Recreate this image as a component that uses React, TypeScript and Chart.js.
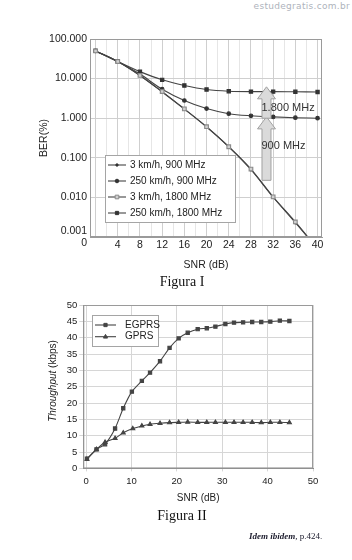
import React, { useEffect, useRef } from "react";
import { Chart, registerables } from "chart.js";

Chart.register(...registerables);

// ---------- Figura I : BER x SNR ----------
const berSnr = [0, 4, 8, 12, 16, 20, 24, 28, 32, 36, 40];
const ber3km900 = [50, 27, 12, 4.6, 1.7, 0.6, 0.19, 0.05, 0.0101, 0.0023, 0.0005];
const ber250km900 = [50, 27, 13, 5.4, 2.8, 1.75, 1.3, 1.15, 1.08, 1.03, 1.0];
const ber3km1800 = [50, 27, 12, 4.7, 1.72, 0.61, 0.19, 0.052, 0.0103, 0.0024, 0.0005];
const ber250km1800 = [50, 27, 15, 9.3, 6.7, 5.3, 4.8, 4.7, 4.7, 4.65, 4.6];
const berLabels = ["3 km/h, 900 MHz", "250 km/h, 900 MHz", "3 km/h, 1800 MHz", "250 km/h, 1800 MHz"];
const berTickVals = [100, 10, 1, 0.1, 0.01, 0.001];
const berTickLabels: (string | string[])[] = ["100.000", "10.000", "1.000", "0.100", "0.010", ["0.001", "0"]];
const snrTickLabels1 = [4, 8, 12, 16, 20, 24, 28, 32, 36, 40];
const arrowSnr = 30.8;
const arrow900 = [0.027, 1.08];
const arrow1800 = [1.0, 6.2];
const arrowText = ["1.800 MHz", "900 MHz"];

// ---------- Figura II : Throughput x SNR ----------
const egprsSnr = [0.2, 2.3, 4.2, 6.4, 8.2, 10.1, 12.3, 14.1, 16.3, 18.4, 20.4, 22.4, 24.6, 26.6, 28.5, 30.7, 32.6, 34.6, 36.6, 38.6, 40.6, 42.7, 44.8];
const egprsKbps = [3.0, 5.8, 7.4, 12.2, 18.4, 23.5, 26.8, 29.3, 32.8, 36.9, 39.8, 41.5, 42.6, 42.9, 43.4, 44.2, 44.6, 44.7, 44.8, 44.8, 44.9, 45.2, 45.1];
const gprsSnr = [0.2, 2.3, 4.2, 6.4, 8.2, 10.3, 12.3, 14.1, 16.3, 18.4, 20.4, 22.4, 24.6, 26.6, 28.5, 30.7, 32.6, 34.6, 36.6, 38.6, 40.6, 42.7, 44.8];
const gprsKbps = [2.8, 5.8, 8.0, 9.2, 10.9, 12.2, 13.0, 13.5, 13.8, 14.0, 14.1, 14.2, 14.1, 14.1, 14.1, 14.1, 14.1, 14.1, 14.1, 14.0, 14.1, 14.1, 14.0];
const tpLabels = ["EGPRS", "GPRS"];
const tpXTicks = [0, 10, 20, 30, 40, 50];

const FONT = "'Liberation Sans', Arial, sans-serif";
const TXT = "#222";
const LINE = "#444";

function drawMarker(ctx: CanvasRenderingContext2D, style: string, x: number, y: number, r: number, fill: string, stroke: string) {
  ctx.save();
  ctx.fillStyle = fill;
  ctx.strokeStyle = stroke;
  ctx.lineWidth = 1;
  ctx.beginPath();
  if (style === "rect") {
    const s = r * Math.SQRT1_2;
    ctx.rect(x - s, y - s, 2 * s, 2 * s);
  } else if (style === "triangle") {
    ctx.moveTo(x, y - r);
    ctx.lineTo(x + r * 0.9, y + r * 0.6);
    ctx.lineTo(x - r * 0.9, y + r * 0.6);
    ctx.closePath();
  } else {
    ctx.arc(x, y, r, 0, Math.PI * 2);
  }
  ctx.fill();
  ctx.stroke();
  ctx.restore();
}

const borderPlugin = {
  id: "frame",
  afterDraw(chart: any) {
    const { ctx, chartArea: a } = chart;
    ctx.save();
    ctx.strokeStyle = "#9a9a9a";
    ctx.lineWidth = 1;
    ctx.strokeRect(a.left + 0.5, a.top + 0.5, a.right - a.left - 1, a.bottom - a.top - 1);
    ctx.restore();
  },
};

function makeLegend(id: string, box: number[], rows: number[], lineX: number[], textX: number, fontSize: number) {
  return {
    id,
    afterDraw(chart: any) {
      const { ctx } = chart;
      ctx.save();
      ctx.fillStyle = "#fff";
      ctx.strokeStyle = "#a5a5a5";
      ctx.lineWidth = 1;
      ctx.fillRect(box[0], box[1], box[2] - box[0], box[3] - box[1]);
      ctx.strokeRect(box[0] + 0.5, box[1] + 0.5, box[2] - box[0], box[3] - box[1]);
      chart.data.datasets.forEach((ds: any, i: number) => {
        const y = rows[i];
        ctx.strokeStyle = ds.borderColor;
        ctx.lineWidth = ds.borderWidth;
        ctx.beginPath();
        ctx.moveTo(lineX[0], y);
        ctx.lineTo(lineX[1], y);
        ctx.stroke();
        drawMarker(ctx, ds.pointStyle, (lineX[0] + lineX[1]) / 2, y, ds.pointRadius, ds.pointBackgroundColor, ds.pointBorderColor);
        ctx.fillStyle = TXT;
        ctx.font = `${fontSize}px ${FONT}`;
        ctx.textBaseline = "middle";
        ctx.textAlign = "left";
        ctx.fillText(ds.label, textX, y);
      });
      ctx.restore();
    },
  };
}

function drawArrow(ctx: CanvasRenderingContext2D, x: number, yFrom: number, yTo: number) {
  const sw = 4.5, hw = 9, hl = 12;
  ctx.beginPath();
  ctx.moveTo(x - sw, yFrom);
  ctx.lineTo(x - sw, yTo + hl);
  ctx.lineTo(x - hw, yTo + hl);
  ctx.lineTo(x, yTo);
  ctx.lineTo(x + hw, yTo + hl);
  ctx.lineTo(x + sw, yTo + hl);
  ctx.lineTo(x + sw, yFrom);
  ctx.closePath();
  ctx.fillStyle = "#dadada";
  ctx.strokeStyle = "#a0a0a0";
  ctx.lineWidth = 1;
  ctx.fill();
  ctx.stroke();
}

const arrowPlugin = {
  id: "arrows",
  afterDatasetsDraw(chart: any) {
    const { ctx, scales } = chart;
    const x = scales.x.getPixelForValue(arrowSnr);
    ctx.save();
    drawArrow(ctx, x, scales.y.getPixelForValue(arrow900[0]), scales.y.getPixelForValue(arrow900[1]));
    drawArrow(ctx, x, scales.y.getPixelForValue(arrow1800[0]), scales.y.getPixelForValue(arrow1800[1]));
    ctx.fillStyle = "#333";
    ctx.font = `11px ${FONT}`;
    ctx.textBaseline = "middle";
    ctx.textAlign = "left";
    ctx.fillText(arrowText[0], x - 5, scales.y.getPixelForValue(1.85));
    ctx.fillText(arrowText[1], x - 5, scales.y.getPixelForValue(0.2));
    ctx.restore();
  },
};

const yTitlePlugin = {
  id: "ytitle",
  afterDraw(chart: any) {
    const { ctx } = chart;
    ctx.save();
    ctx.translate(53, 91);
    ctx.rotate(-Math.PI / 2);
    ctx.fillStyle = TXT;
    ctx.textBaseline = "middle";
    const a = "Throughput", b = " (kbps)";
    ctx.font = `italic 10px ${FONT}`;
    const wa = ctx.measureText(a).width;
    ctx.font = `10px ${FONT}`;
    const wb = ctx.measureText(b).width;
    const start = -(wa + wb) / 2;
    ctx.font = `italic 10px ${FONT}`;
    ctx.textAlign = "left";
    ctx.fillText(a, start, 0);
    ctx.font = `10px ${FONT}`;
    ctx.fillText(b, start + wa, 0);
    ctx.restore();
  },
};

function series(xs: number[], ys: number[]) {
  return xs.map((x, i) => ({ x, y: ys[i] }));
}

export default function App() {
  const ref1 = useRef<HTMLCanvasElement>(null);
  const ref2 = useRef<HTMLCanvasElement>(null);

  useEffect(() => {
    Chart.defaults.font.family = FONT;
    Chart.defaults.color = TXT;

    const c1 = new Chart(ref1.current as HTMLCanvasElement, {
      type: "line",
      data: {
        datasets: [
          { label: berLabels[0], data: series(berSnr, ber3km900), borderColor: LINE, borderWidth: 1.1, pointStyle: "circle", pointRadius: 1.2, pointBackgroundColor: "#333", pointBorderColor: "#333", cubicInterpolationMode: "monotone", order: 2 },
          { label: berLabels[1], data: series(berSnr, ber250km900), borderColor: LINE, borderWidth: 1.1, pointStyle: "circle", pointRadius: 1.8, pointBackgroundColor: "#333", pointBorderColor: "#333", cubicInterpolationMode: "monotone", order: 3 },
          { label: berLabels[2], data: series(berSnr, ber3km1800), borderColor: LINE, borderWidth: 1.1, pointStyle: "rect", pointRadius: 2.6, pointBackgroundColor: "#d0d0d0", pointBorderColor: "#8a8a8a", cubicInterpolationMode: "monotone", order: 1 },
          { label: berLabels[3], data: series(berSnr, ber250km1800), borderColor: LINE, borderWidth: 1.1, pointStyle: "rect", pointRadius: 2.3, pointBackgroundColor: "#333", pointBorderColor: "#333", cubicInterpolationMode: "monotone", order: 4 },
        ] as any,
      },
      options: {
        responsive: false,
        animation: false,
        events: [],
        layout: { padding: { top: 39, right: 30, left: 34, bottom: 0 } },
        plugins: { legend: { display: false }, tooltip: { enabled: false } },
        scales: {
          x: {
            type: "linear",
            min: -1,
            max: 40.8,
            afterBuildTicks: (s: any) => {
              const t = [];
              for (let v = 0; v <= 40; v += 2) t.push({ value: v });
              s.ticks = t;
            },
            afterFit: (s: any) => { s.height = 38; },
            ticks: {
              autoSkip: false,
              maxRotation: 0,
              padding: 2,
              font: { size: 10.5 },
              color: TXT,
              callback: (v: any) => (snrTickLabels1.includes(Number(v)) ? String(v) : ""),
            },
            grid: {
              drawTicks: false,
              color: (c: any) => (c.tick && c.tick.value % 4 === 0 ? "#cfcfcf" : "#e6e6e6"),
            },
            border: { display: true, color: "#9a9a9a" },
            title: { display: true, text: "SNR (dB)", font: { size: 10.5 }, color: TXT, padding: { top: 4, bottom: 4 } },
          },
          y: {
            type: "logarithmic",
            min: 0.001,
            max: 100,
            afterBuildTicks: (s: any) => { s.ticks = berTickVals.map((v) => ({ value: v })); },
            afterFit: (s: any) => { s.width = 56; },
            ticks: {
              autoSkip: false,
              padding: 3,
              font: { size: 10.5 },
              color: TXT,
              callback: (v: any) => {
                const i = berTickVals.indexOf(Number(v));
                return i >= 0 ? berTickLabels[i] : "";
              },
            },
            grid: { drawTicks: false, color: "#cfcfcf" },
            border: { display: true, color: "#9a9a9a" },
            title: { display: true, text: "BER(%)", font: { size: 10.5 }, color: TXT, padding: { top: 4, bottom: 4 } },
          },
        },
      } as any,
      plugins: [borderPlugin, arrowPlugin, makeLegend("leg1", [105, 155, 235, 222], [165, 181, 197, 213], [108, 126], 130, 10)],
    });

    const c2 = new Chart(ref2.current as HTMLCanvasElement, {
      type: "line",
      data: {
        datasets: [
          { label: tpLabels[0], data: series(egprsSnr, egprsKbps), borderColor: LINE, borderWidth: 1.1, pointStyle: "rect", pointRadius: 2.3, pointBackgroundColor: "#444", pointBorderColor: "#444", tension: 0.2 },
          { label: tpLabels[1], data: series(gprsSnr, gprsKbps), borderColor: LINE, borderWidth: 1.1, pointStyle: "triangle", pointRadius: 2.3, pointBackgroundColor: "#444", pointBorderColor: "#444", tension: 0.2 },
        ] as any,
      },
      options: {
        responsive: false,
        animation: false,
        events: [],
        layout: { padding: { top: 15, right: 39, left: 42, bottom: 0 } },
        plugins: { legend: { display: false }, tooltip: { enabled: false } },
        scales: {
          x: {
            type: "linear",
            min: -0.6,
            max: 50,
            afterBuildTicks: (s: any) => { s.ticks = tpXTicks.map((v) => ({ value: v })); },
            afterFit: (s: any) => { s.height = 39.6; },
            ticks: { autoSkip: false, maxRotation: 0, padding: 4, font: { size: 9.5 }, color: TXT },
            grid: { drawTicks: true, tickLength: 3, color: "#d6d6d6" },
            border: { display: true, color: "#8a8a8a" },
            title: { display: true, text: "SNR (dB)", font: { size: 10 }, color: TXT, padding: { top: 4, bottom: 4 } },
          },
          y: {
            type: "linear",
            min: 0,
            max: 50,
            afterFit: (s: any) => { s.width = 41.3; },
            ticks: { stepSize: 5, autoSkip: false, padding: 2, font: { size: 9.5 }, color: TXT },
            grid: { drawTicks: true, tickLength: 4, color: "#d6d6d6" },
            border: { display: true, color: "#8a8a8a" },
            title: { display: false },
          },
        },
      } as any,
      plugins: [borderPlugin, yTitlePlugin, makeLegend("leg2", [92, 25, 158, 56], [35, 46.7], [95, 116], 125, 10)],
    });

    return () => {
      c1.destroy();
      c2.destroy();
    };
  }, []);

  return (
    <div style={{ position: "absolute", left: 0, top: 0, width: 352, height: 560, background: "#fff", overflow: "hidden" }}>
      <div style={{ position: "absolute", right: 2, top: 1, font: "9px 'DejaVu Sans', sans-serif", color: "#aeb3bc", letterSpacing: 0.3 }}>
        estudegratis.com.br
      </div>
      <canvas ref={ref1} width={352} height={275} style={{ position: "absolute", left: 0, top: 0 }} />
      <div style={{ position: "absolute", left: 0, width: 364, top: 274, textAlign: "center", font: "14px 'Liberation Serif', serif", color: "#111" }}>
        Figura I
      </div>
      <canvas ref={ref2} width={352} height={218} style={{ position: "absolute", left: 0, top: 290 }} />
      <div style={{ position: "absolute", left: 0, width: 364, top: 508, textAlign: "center", font: "14px 'Liberation Serif', serif", color: "#111" }}>
        Figura II
      </div>
      <div style={{ position: "absolute", left: 249, top: 531, font: "9px 'Liberation Serif', serif", color: "#223", whiteSpace: "nowrap" }}>
        <span style={{ fontStyle: "italic", fontWeight: 600 }}>Idem ibidem</span>, p.424.
      </div>
    </div>
  );
}
